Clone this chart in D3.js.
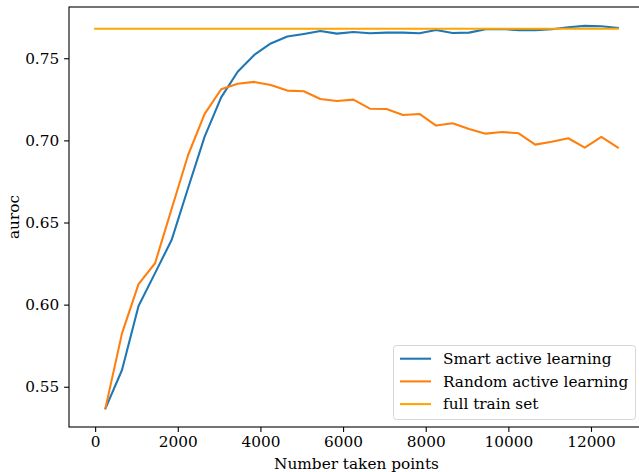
<!DOCTYPE html>
<html>
<head>
<meta charset="utf-8">
<script src="https://d3js.org/d3.v7.min.js"></script>
<style>
  body { margin: 0; background: white; }
  svg { display: block; }
  text { font-family: "DejaVu Serif", serif; }
</style>
</head>
<body>
<svg id="chart"></svg>
<script>
// number of taken points for each active learning step
var takenPoints = [250, 650, 1050, 1450, 1850, 2250, 2650, 3050, 3450, 3850,
                   4250, 4650, 5050, 5450, 5850, 6250, 6650, 7050, 7450, 7850,
                   8250, 8650, 9050, 9450, 9850, 10250, 10650, 11050, 11450, 11850,
                   12250, 12650]

var smartAuroc = [0.5368, 0.5602, 0.5992, 0.6192, 0.6393, 0.6710, 0.7023, 0.7262, 0.7418, 0.7520,
                  0.7590, 0.7632, 0.7648, 0.7666, 0.7650, 0.7660, 0.7652, 0.7656, 0.7656, 0.7652,
                  0.7672, 0.7654, 0.7656, 0.7677, 0.7678, 0.7671, 0.7671, 0.7677, 0.7689, 0.7697,
                  0.7695, 0.7685]

var randomAuroc = [0.5370, 0.5825, 0.6125, 0.6252, 0.6582, 0.6911, 0.7161, 0.7311, 0.7345, 0.7356,
                   0.7337, 0.7303, 0.7299, 0.7252, 0.7240, 0.7248, 0.7193, 0.7191, 0.7155, 0.7161,
                   0.7090, 0.7104, 0.7069, 0.7041, 0.7051, 0.7043, 0.6974, 0.6992, 0.7013, 0.6956,
                   0.7021, 0.6956]

// full train set baseline: flat line from 0 to last step
var fullTrainX = [0, 12650]
var fullTrainAuroc = [0.768, 0.768]

var xTicks = [0, 2000, 4000, 6000, 8000, 10000, 12000]
var yTicks = [0.55, 0.60, 0.65, 0.70, 0.75]

var seriesNames = ["Smart active learning", "Random active learning", "full train set"]
var seriesColors = ["#1f77b4", "#ff7f0e", "#ffa500"]

var fontSize = "15.3px"

var dims = {
    width: 639,
    height: 472,
    margin: {
        top: 7,
        bottom: 45,
        left: 69,
        right: -5   // the figure is clipped on the right, frame edge falls off the canvas
    }
}

var svg = d3.select("#chart")
            .attr("width", dims.width)
            .attr("height", dims.height)

var xScale = d3.scaleLinear()
               .domain([-632.5, 13282.5])
               .range([dims.margin.left, dims.width - dims.margin.right])

var yScale = d3.scaleLinear()
               .domain([0.5255, 0.7812])
               .range([dims.height - dims.margin.bottom, dims.margin.top])

var lineGen = d3.line()
                .x(d => xScale(d[0]))
                .y(d => yScale(d[1]))

var lines = [
    d3.zip(takenPoints, smartAuroc),
    d3.zip(takenPoints, randomAuroc),
    d3.zip(fullTrainX, fullTrainAuroc)
]

var plot = svg.append("g")

plot.selectAll("path")
    .data(lines)
    .enter()
    .append("path")
    .attr("d", d => lineGen(d))
    .attr("fill", "none")
    .attr("stroke", (d, i) => seriesColors[i])
    .attr("stroke-width", 2.08)
    .attr("stroke-linejoin", "round")
    .attr("stroke-linecap", "square")

// axes
var xAxisGen = d3.axisBottom(xScale)
                 .tickValues(xTicks)
                 .tickFormat(d3.format("d"))
                 .tickSizeInner(4.9)
                 .tickSizeOuter(0)
                 .tickPadding(4.5)

var xAxis = svg.append("g")
               .attr("transform", `translate(0,${dims.height - dims.margin.bottom})`)
               .call(xAxisGen)

var yAxisGen = d3.axisLeft(yScale)
                 .tickValues(yTicks)
                 .tickFormat(d3.format(".2f"))
                 .tickSizeInner(4.9)
                 .tickSizeOuter(0)
                 .tickPadding(4.9)

var yAxis = svg.append("g")
               .attr("transform", `translate(${dims.margin.left},0)`)
               .call(yAxisGen)

svg.selectAll(".tick text")
   .attr("font-family", "DejaVu Serif")
   .attr("font-size", fontSize)
   .attr("fill", "black")

svg.selectAll(".tick line")
   .attr("stroke", "black")
   .attr("stroke-width", 1.1)

svg.selectAll(".domain").remove()

// frame
svg.append("rect")
   .attr("x", dims.margin.left)
   .attr("y", dims.margin.top)
   .attr("width", dims.width - dims.margin.right - dims.margin.left)
   .attr("height", dims.height - dims.margin.bottom - dims.margin.top)
   .attr("fill", "none")
   .attr("stroke", "black")
   .attr("stroke-width", 1.1)

var xLab = svg.append("text")
              .attr("x", (dims.margin.left + dims.width - dims.margin.right) / 2)
              .attr("y", 468.5)
              .attr("text-anchor", "middle")
              .attr("font-size", fontSize)
              .attr("fill", "black")
              .text("Number taken points")

var yLab = svg.append("text")
              .attr("transform", "rotate(-90)")
              .attr("x", -(yScale.range()[0] + yScale.range()[1]) / 2)
              .attr("y", 19)
              .attr("text-anchor", "middle")
              .attr("font-size", fontSize)
              .attr("fill", "black")
              .text("auroc")

// legend, lower right
var legend = svg.append("g")

legend.append("rect")
      .attr("x", 393.5)
      .attr("y", 345.5)
      .attr("width", 242)
      .attr("height", 74)
      .attr("rx", 3)
      .attr("fill", "white")
      .attr("fill-opacity", 0.8)
      .attr("stroke", "#d6d6d6")
      .attr("stroke-width", 1)

var legendRows = legend.selectAll("g.row")
                       .data(seriesNames)
                       .enter()
                       .append("g")
                       .attr("class", "row")
                       .attr("transform", (d, i) => `translate(0,${358.7 + i * 22.7})`)

legendRows.append("line")
          .attr("x1", 400)
          .attr("x2", 431)
          .attr("y1", 0)
          .attr("y2", 0)
          .attr("stroke", (d, i) => seriesColors[i])
          .attr("stroke-width", 2.08)

legendRows.append("text")
          .attr("x", 443)
          .attr("y", 5.3)
          .attr("font-size", fontSize)
          .attr("fill", "black")
          .text(d => d)
</script>
</body>
</html>
